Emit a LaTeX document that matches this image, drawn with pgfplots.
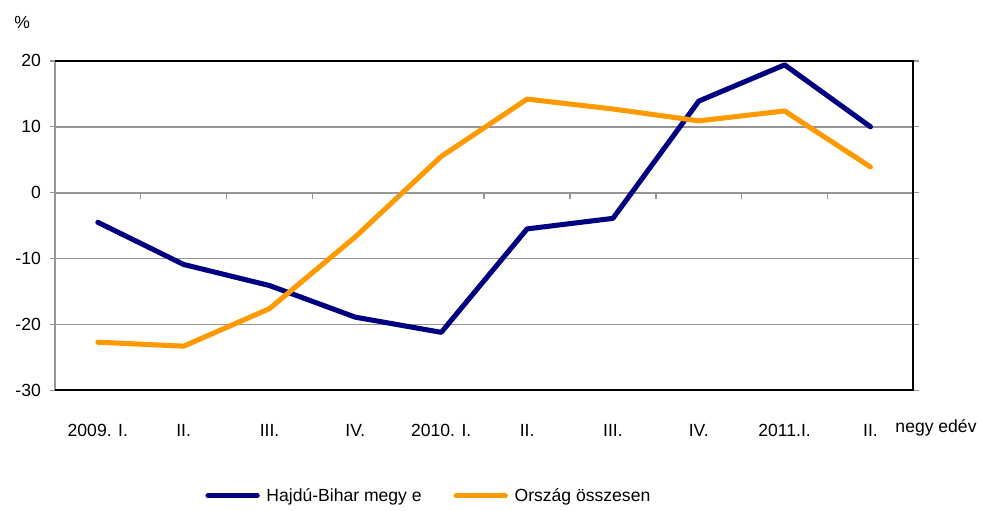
\documentclass[border=0pt]{standalone}
\usepackage{pgfplots}
\pgfplotsset{compat=1.18}
\usepackage{fontspec}
\setmainfont{Liberation Sans}
\definecolor{hbnavy}{RGB}{0,0,128}
\definecolor{orszorange}{RGB}{255,153,0}
\definecolor{gridgray}{RGB}{150,150,150}
\newcommand{\chartfont}{\fontsize{13.2}{15.8}\selectfont}
\begin{document}
\begin{tikzpicture}
\begin{axis}[
  scale only axis,
  width=645pt,
  height=247.5pt,
  xmin=-0.5, xmax=9.5,
  ymin=-30, ymax=20,
  font=\chartfont,
  axis line style={draw=none},
  xtick={0,...,9},
  xticklabels={2009. I.,II.,III.,IV.,2010. I.,II.,III.,IV.,2011.I.,II.},
  x tick style={draw=none},
  xticklabel style={yshift=-18pt},
  ytick={-30,-20,-10,0,10,20},
  yticklabels={-30,-20,-10,0,10,20},
  y tick style={gridgray, line width=1pt},
  tick align=outside,
  major tick length=4pt,
  yticklabel style={xshift=-3pt},
  ymajorgrids=true,
  grid style={gridgray, line width=1.3pt},
  legend style={at={(0.436,-0.32)}, anchor=center, draw=none, fill=none,
    legend columns=2,
    /tikz/every odd column/.append style={column sep=3pt},
    /tikz/every even column/.append style={column sep=22pt}},
  legend image code/.code={\draw[#1, line cap=round] (0pt,0pt) -- (37pt,0pt);},
  clip=false,
]
\addplot[hbnavy, line width=3.8pt, line join=round, line cap=round] coordinates {
  (0,-4.5) (1,-10.9) (2,-14.1) (3,-18.9) (4,-21.2)
  (5,-5.5) (6,-3.9) (7,13.9) (8,19.4) (9,10.0)};
\addlegendentry{Hajdú-Bihar megy e}
\addplot[orszorange, line width=3.8pt, line join=round, line cap=round] coordinates {
  (0,-22.7) (1,-23.3) (2,-17.6) (3,-6.7) (4,5.5)
  (5,14.2) (6,12.7) (7,10.9) (8,12.4) (9,3.9)};
\addlegendentry{Ország összesen}
% frame: left side gray, others black
\draw[gridgray, line width=1.6pt] (rel axis cs:0,0) -- (rel axis cs:0,1);
\draw[black, line width=1.6pt] (rel axis cs:0,1) -- (rel axis cs:1,1) -- (rel axis cs:1,0) -- (rel axis cs:0,0);
% category separators on the zero line
\pgfplotsinvokeforeach{0.5,1.5,2.5,3.5,4.5,5.5,6.5,7.5,8.5}{
  \draw[gridgray, line width=1pt] (axis cs:#1,0) -- ([yshift=-4.5pt]axis cs:#1,0);
}
\end{axis}
\node[font=\chartfont, anchor=south] at (-24.5pt,268pt) {\%};
\node[font=\chartfont, anchor=west] at (628pt,-28.5pt) {negy edév};
\path (-41.25pt,-90pt) rectangle (694.5pt,293.25pt);
\end{tikzpicture}
\end{document}
